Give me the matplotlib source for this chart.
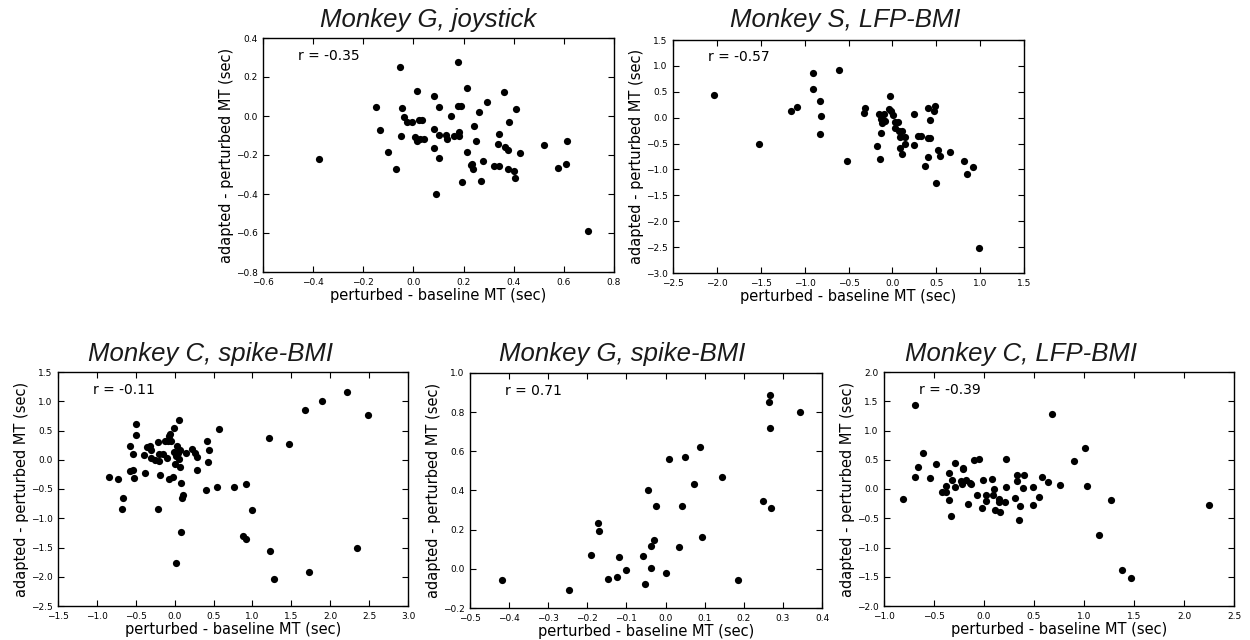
#!/usr/bin/env python3
"""Movement-time adaptation scatter panels (perturbed vs adapted MT)."""

import matplotlib

matplotlib.use("Agg")
import matplotlib.pyplot as plt
from matplotlib.ticker import FuncFormatter
import numpy as np

# --- Monkey G, joystick -------------------------------------------------
g_joy_x = [-0.378, -0.053, 0.178, -0.150, -0.135, -0.101, -0.069, -0.044, -0.038, -0.026,
           -0.006, -0.049, 0.015, 0.021, 0.036, 0.006, 0.014, 0.028, 0.043, 0.083,
           0.101, 0.084, 0.100, 0.083, 0.100, 0.092, 0.149, 0.129, 0.134, 0.160,
           0.177, 0.190, 0.182, 0.182, 0.215, 0.193, 0.214, 0.243, 0.249, 0.262,
           0.292, 0.229, 0.234, 0.239, 0.278, 0.270, 0.322, 0.343, 0.342, 0.337,
           0.363, 0.367, 0.377, 0.380, 0.409, 0.379, 0.403, 0.404, 0.425, 0.521,
           0.614, 0.575, 0.607, 0.695]
g_joy_y = [-0.222, 0.249, 0.279, 0.048, -0.074, -0.185, -0.271, 0.043, -0.005, -0.032,
           -0.032, -0.100, 0.130, -0.023, -0.023, -0.107, -0.127, -0.120, -0.118, 0.104,
           0.046, -0.069, -0.095, -0.163, -0.217, -0.401, 0.002, -0.098, -0.118, -0.103,
           0.050, 0.052, -0.084, -0.100, 0.143, -0.339, -0.186, -0.049, -0.127, 0.021,
           0.072, -0.251, -0.246, -0.270, -0.232, -0.333, -0.258, -0.256, -0.093, -0.146,
           0.123, -0.159, -0.176, -0.032, 0.036, -0.270, -0.280, -0.319, -0.188, -0.151,
           -0.129, -0.265, -0.248, -0.589]

# --- Monkey S, LFP-BMI --------------------------------------------------
s_lfp_x = [-2.034, -1.515, -1.152, -1.087, -0.905, -0.905, -0.826, -0.811, -0.826, -0.606,
           -0.515, -0.322, -0.307, -0.178, -0.155, -0.136, -0.129, -0.121, -0.129, -0.106,
           -0.091, -0.087, -0.027, -0.038, -0.011, 0.004, 0.027, 0.030, 0.068, 0.080,
           0.114, 0.083, 0.148, 0.144, 0.083, 0.110, 0.250, 0.295, 0.326, 0.242,
           0.405, 0.489, 0.473, 0.424, 0.405, 0.432, 0.515, 0.538, 0.405, 0.367,
           0.500, 0.652, 0.818, 0.852, 0.917, 0.992]
s_lfp_y = [0.444, -0.502, 0.122, 0.212, 0.869, 0.560, 0.316, 0.026, -0.316, 0.914,
           -0.837, 0.090, 0.193, -0.547, 0.071, -0.792, -0.032, -0.109, -0.290, -0.045,
           0.071, -0.071, 0.419, 0.174, 0.129, 0.045, -0.084, -0.200, -0.084, -0.251,
           -0.258, -0.380, -0.367, -0.502, -0.580, -0.695, 0.071, -0.348, -0.354, -0.534,
           0.193, 0.225, 0.129, -0.052, -0.399, -0.386, -0.631, -0.747, -0.753, -0.934,
           -1.256, -0.663, -0.837, -1.082, -0.953, -2.518]

# --- Monkey C, spike-BMI ------------------------------------------------
c_spk_x = [-0.844, -0.728, -0.668, -0.672, -0.574, -0.531, -0.527, -0.570, -0.531, -0.497,
           -0.497, -0.390, -0.381, -0.355, -0.313, -0.304, -0.304, -0.248, -0.210, -0.201,
           -0.197, -0.193, -0.214, -0.150, -0.128, -0.098, -0.086, -0.077, -0.056, -0.043,
           -0.069, -0.026, -0.013, -0.004, 0.000, 0.013, 0.030, 0.043, 0.051, 0.060,
           0.064, 0.069, 0.081, 0.107, 0.094, 0.081, 0.013, 0.150, 0.227, 0.261,
           0.287, 0.287, 0.415, 0.445, 0.428, 0.403, 0.544, 0.565, 0.758, 0.921,
           0.994, 0.878, 0.916, 1.216, 1.221, 1.281, 1.473, 1.680, 1.900, 2.220,
           2.343, 2.480, 1.726]
c_spk_y = [-0.297, -0.325, -0.650, -0.844, -0.188, -0.183, -0.314, 0.228, 0.091, 0.610,
           0.416, 0.080, -0.222, 0.211, 0.228, 0.165, 0.029, -0.006, 0.297, 0.097,
           -0.029, -0.262, -0.839, 0.091, 0.314, 0.034, 0.325, 0.399, 0.445, 0.325,
           -0.337, -0.291, 0.131, 0.536, -0.074, 0.057, 0.234, 0.114, 0.673, 0.017,
           0.171, -0.131, -0.394, -0.599, -0.662, -1.238, -1.757, 0.108, 0.188, 0.120,
           0.040, -0.177, 0.314, 0.160, -0.040, -0.519, -0.468, 0.519, -0.462, -0.422,
           -0.867, -1.301, -1.358, 0.376, -1.557, -2.037, 0.274, 0.856, 1.000, 1.150,
           -1.500, 0.765, -1.922]

# --- Monkey G, spike-BMI ------------------------------------------------
g_spk_x = [-0.417, -0.246, -0.190, -0.174, -0.170, -0.146, -0.124, -0.119, -0.101, -0.057,
           -0.052, -0.046, -0.038, -0.036, -0.030, -0.025, 0.001, 0.009, 0.034, 0.041,
           0.049, 0.072, 0.088, 0.092, 0.144, 0.184, 0.250, 0.269, 0.264, 0.268,
           0.266, 0.343]
g_spk_y = [-0.056, -0.109, 0.070, 0.235, 0.192, -0.054, -0.041, 0.058, -0.005, 0.065,
           -0.075, 0.405, 0.002, 0.119, 0.148, 0.320, -0.020, 0.563, 0.111, 0.320,
           0.569, 0.434, 0.623, 0.165, 0.470, -0.058, 0.344, 0.311, 0.851, 0.890,
           0.720, 0.803]

# --- Monkey C, LFP-BMI --------------------------------------------------
c_lfp_x = [-0.813, -0.690, -0.690, -0.663, -0.610, -0.540, -0.480, -0.420, -0.383, -0.377,
           -0.347, -0.347, -0.333, -0.317, -0.293, -0.293, -0.213, -0.207, -0.227, -0.223,
           -0.183, -0.160, -0.140, -0.130, -0.097, -0.070, -0.047, -0.020, -0.007, 0.020,
           0.023, 0.080, 0.097, 0.093, 0.113, 0.147, 0.153, 0.160, 0.213, 0.220,
           0.223, 0.307, 0.327, 0.333, 0.357, 0.347, 0.387, 0.400, 0.490, 0.487,
           0.553, 0.580, 0.640, 0.677, 0.763, 0.900, 1.010, 1.033, 1.150, 1.270,
           1.380, 1.473, 2.250]
c_lfp_y = [-0.165, 1.436, 0.211, 0.376, 0.615, 0.182, 0.422, -0.057, -0.046, 0.051,
           0.279, -0.188, -0.462, 0.154, 0.444, 0.040, 0.336, 0.353, 0.131, 0.091,
           0.160, -0.251, 0.108, 0.091, 0.490, -0.108, 0.513, -0.319, 0.154, -0.103,
           -0.211, 0.171, 0.000, -0.103, -0.353, -0.217, -0.177, -0.399, -0.228, 0.513,
           0.034, -0.154, 0.142, 0.239, -0.291, -0.536, 0.011, 0.239, 0.040, -0.268,
           -0.131, 0.211, 0.114, 1.276, 0.074, 0.484, 0.695, 0.051, -0.792, -0.194,
           -1.379, -1.521, -0.268]

titles = ["Monkey G, joystick", "Monkey S, LFP-BMI", "Monkey C, spike-BMI",
          "Monkey G, spike-BMI", "Monkey C, LFP-BMI"]
r_labels = ["r = -0.35", "r = -0.57", "r = -0.11", "r = 0.71", "r = -0.39"]

# (xmin, xmax, xstep), (ymin, ymax, ystep)
x_ranges = [(-0.6, 0.8, 0.2), (-2.5, 1.5, 0.5), (-1.5, 3.0, 0.5), (-0.5, 0.4, 0.1), (-1.0, 2.5, 0.5)]
y_ranges = [(-0.8, 0.4, 0.2), (-3.0, 1.5, 0.5), (-2.5, 1.5, 0.5), (-0.2, 1.0, 0.2), (-2.0, 2.0, 0.5)]

# axes rectangles in figure pixels: left, top, right, bottom (1250x640)
boxes = [(263, 38, 614, 272), (673, 40, 1024, 273), (58, 372, 408, 606),
         (470, 373, 822, 608), (884, 372, 1234, 606)]
title_pos = [(428, 27), (845, 27), (210, 361), (622, 361), (1021, 361)]

W, H = 1250, 640


def _fmt(v, _pos):
    if abs(v) < 1e-9:
        v = 0.0
    return f"{v:.1f}".replace("-", "\u2212")


def main() -> None:
    fig = plt.figure(figsize=(W / 100, H / 100), dpi=100)
    data = [(g_joy_x, g_joy_y), (s_lfp_x, s_lfp_y), (c_spk_x, c_spk_y),
            (g_spk_x, g_spk_y), (c_lfp_x, c_lfp_y)]

    for i, (xs, ys) in enumerate(data):
        l, t, r, b = boxes[i]
        ax = fig.add_axes([l / W, 1 - b / H, (r - l) / W, (b - t) / H])
        ax.scatter(xs, ys, s=27, c="black", linewidths=0, zorder=3)

        x0, x1, dx = x_ranges[i]
        y0, y1, dy = y_ranges[i]
        ax.set_xlim(x0, x1)
        ax.set_ylim(y0, y1)
        ax.set_xticks(np.round(np.arange(x0, x1 + dx / 2, dx), 2))
        ax.set_yticks(np.round(np.arange(y0, y1 + dy / 2, dy), 2))
        ax.xaxis.set_major_formatter(FuncFormatter(_fmt))
        ax.yaxis.set_major_formatter(FuncFormatter(_fmt))
        ax.tick_params(direction="in", top=True, right=True, length=4, width=0.8,
                       labelsize=6.5, pad=4)
        for sp in ax.spines.values():
            sp.set_linewidth(1.0)

        ax.set_xlabel("perturbed - baseline MT (sec)", fontsize=10.5, labelpad=1)
        ax.set_ylabel("adapted - perturbed MT (sec)", fontsize=10.5, labelpad=1)
        ax.text(0.10, 0.925, r_labels[i], transform=ax.transAxes,
                fontsize=10, ha="left", va="center")

        tx, ty = title_pos[i]
        fig.text(tx / W, 1 - ty / H, titles[i], fontsize=18.5, style="italic",
                 family="Liberation Sans", color="#1a1a1a", ha="center", va="baseline")

    fig.savefig("out.png", dpi=100)
    plt.close(fig)


if __name__ == "__main__":
    main()
